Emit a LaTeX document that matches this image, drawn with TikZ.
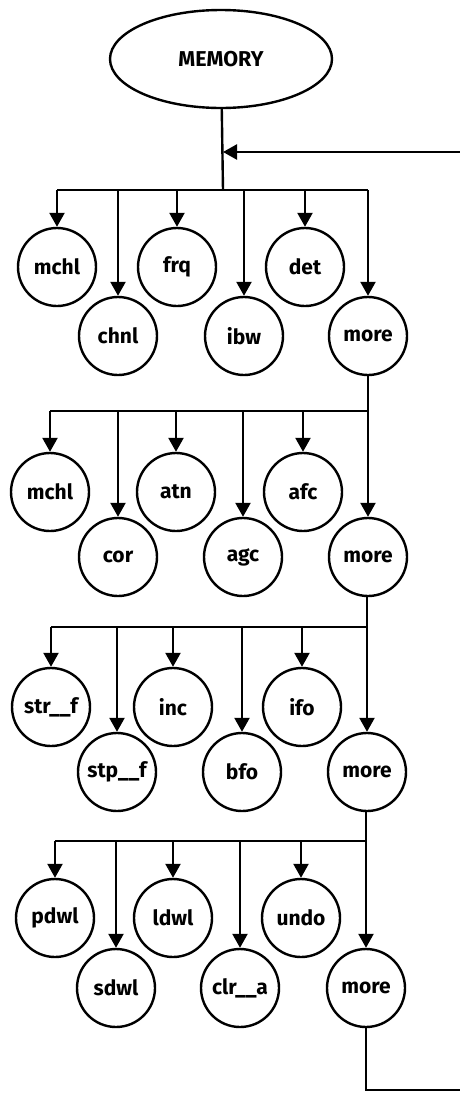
\documentclass[tikz,border=0pt]{standalone}
\usepackage{fontspec}
\setmainfont{Fira Sans}
\usetikzlibrary{arrows.meta,shapes.geometric}
\tikzset{
  menu/.style={
    ellipse, draw, line width=2.4pt, inner sep=0pt,
    minimum width=222pt, minimum height=98pt,
    font=\fontsize{21.5}{24}\selectfont\bfseries
  },
  key/.style={
    circle, draw, line width=2.4pt, inner sep=0pt,
    minimum size=78pt, font=\fontsize{21}{24}\selectfont\bfseries
  },
  wire/.style={line width=2.4pt},
  feed/.style={-{Triangle[length=14pt,width=15pt]}, line width=2.4pt}
}
\begin{document}
\begin{tikzpicture}[x=1pt,y=-1pt]
  \useasboundingbox (0,0) rectangle (460,1093);
  \node[menu] (mem) at (221,59) {MEMORY};
  \coordinate (loopin) at (223,152);
  \coordinate (bar1) at (223,190);
  % first page of soft keys
  \node[key] (k1a) at (57,267) {mchl};
  \node[key] (k1b) at (118,336) {chnl};
  \node[key] (k1c) at (177,267) {frq};
  \node[key] (k1d) at (244,336) {ibw};
  \node[key] (k1e) at (305,267) {det};
  \node[key] (more1) at (368,336) {more};
  \draw[wire] (mem) -- (bar1);
  \draw[wire] (k1a |- bar1) -- (more1 |- bar1);
  \draw[feed] (k1a |- bar1) -- (k1a);
  \draw[feed] (k1b |- bar1) -- (k1b);
  \draw[feed] (k1c |- bar1) -- (k1c);
  \draw[feed] (k1d |- bar1) -- (k1d);
  \draw[feed] (k1e |- bar1) -- (k1e);
  \draw[feed] (more1 |- bar1) -- (more1);
  % second page
  \node[key] (k2a) at (50,492) {mchl};
  \node[key] (k2b) at (118,557) {cor};
  \node[key] (k2c) at (176,492) {atn};
  \node[key] (k2d) at (243,557) {agc};
  \node[key] (k2e) at (303,492) {afc};
  \node[key] (more2) at (368,557) {more};
  \coordinate (bar2) at (368,411);
  \draw[feed] (more1) -- (more2);
  \draw[wire] (k2a |- bar2) -- (bar2);
  \draw[feed] (k2a |- bar2) -- (k2a);
  \draw[feed] (k2b |- bar2) -- (k2b);
  \draw[feed] (k2c |- bar2) -- (k2c);
  \draw[feed] (k2d |- bar2) -- (k2d);
  \draw[feed] (k2e |- bar2) -- (k2e);
  % third page
  \node[key] (k3a) at (51,707) {str\_\_f};
  \node[key] (k3b) at (117,772) {stp\_\_f};
  \node[key] (k3c) at (173,707) {inc};
  \node[key] (k3d) at (242,772) {bfo};
  \node[key] (k3e) at (302,707) {ifo};
  \node[key] (more3) at (367,772) {more};
  \coordinate (bar3) at (367,627);
  \draw[feed] (more2.south -| more3) -- (more3);
  \draw[wire] (k3a |- bar3) -- (bar3);
  \draw[feed] (k3a |- bar3) -- (k3a);
  \draw[feed] (k3b |- bar3) -- (k3b);
  \draw[feed] (k3c |- bar3) -- (k3c);
  \draw[feed] (k3d |- bar3) -- (k3d);
  \draw[feed] (k3e |- bar3) -- (k3e);
  % fourth page
  \node[key] (k4a) at (55,918) {pdwl};
  \node[key] (k4b) at (116,988) {sdwl};
  \node[key] (k4c) at (173,918) {ldwl};
  \node[key] (k4d) at (240,988) {clr\_\_a};
  \node[key] (k4e) at (301,918) {undo};
  \node[key] (more4) at (366,988) {more};
  \coordinate (bar4) at (366,841);
  \draw[feed] (more3.south -| more4) -- (more4);
  \draw[wire] (k4a |- bar4) -- (bar4);
  \draw[feed] (k4a |- bar4) -- (k4a);
  \draw[feed] (k4b |- bar4) -- (k4b);
  \draw[feed] (k4c |- bar4) -- (k4c);
  \draw[feed] (k4d |- bar4) -- (k4d);
  \draw[feed] (k4e |- bar4) -- (k4e);
  % wrap around to the first page
  \coordinate (wrap) at (464,1090);
  \draw[feed] (more4) |- (wrap) |- (loopin);
\end{tikzpicture}
\end{document}
